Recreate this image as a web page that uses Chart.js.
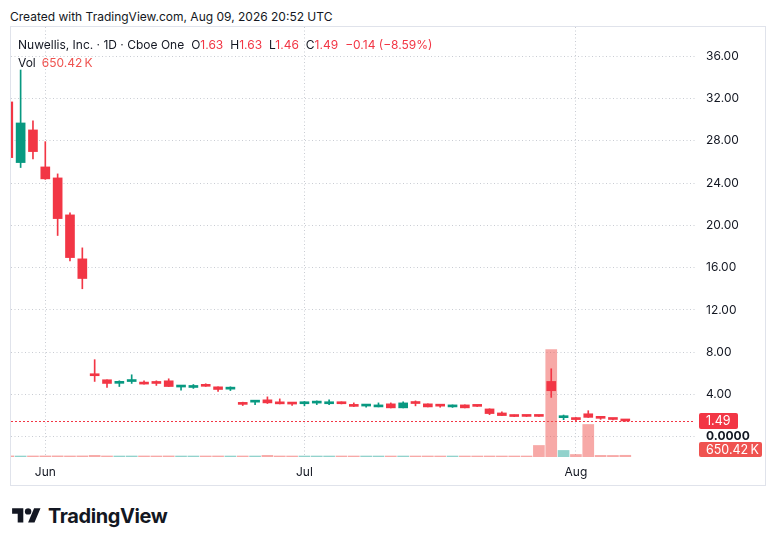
<!DOCTYPE html>
<html>
<head>
<meta charset="utf-8">
<script src="https://cdn.jsdelivr.net/npm/chart.js@4.4.1/dist/chart.umd.min.js"></script>
<style>
  body { margin: 0; width: 776px; height: 546px; background: #fff; position: relative; overflow: hidden;
         font-family: Inter, "Noto Sans", sans-serif; color: #131722; }
  #created { position: absolute; left: 10px; top: 9px; font-size: 12px; line-height: 16px; white-space: nowrap; }
  #pane { position: absolute; left: 10px; top: 26px; width: 756px; height: 460px;
          border: 1px solid #e0e3eb; box-sizing: border-box; }
  #pane canvas { position: absolute; left: 0; top: 0; }
  #legend { position: absolute; left: 18px; top: 36px; font-size: 12px; line-height: 18px; white-space: nowrap; z-index: 2; }
  #legend .v { color: #f23645; margin-right: 7px; }
  #legend .vol { color: #ef5350; margin-left: 6px; }
  #legend .sp { margin-left: 7px; }
  #logo { position: absolute; left: 12px; top: 504px; height: 24px; display: flex; align-items: center; }
  #logo span { font-size: 20px; font-weight: 700; letter-spacing: -0.4px; margin-left: 7px; color: #131722; }
</style>
</head>
<body>
<div id="created">Created with TradingView.com, Aug 09, 2026 20:52 UTC</div>
<div id="pane"><canvas id="chart" width="754" height="458"></canvas></div>
<div id="legend"></div>
<div id="logo">
  <svg width="29" height="22.4" viewBox="0 0 36 28"><path fill="#131722" d="M14 22H7V11H0V4h14v18zM28 22h-8l7.5-18h8L28 22z"/><circle fill="#131722" cx="20" cy="8" r="4"/></svg>
  <span>TradingView</span>
</div>
<script>
// NUWE daily, Cboe One
const dates = [
  "2026-05-27", "2026-05-28", "2026-05-29",
  "2026-06-01", "2026-06-02", "2026-06-03", "2026-06-04", "2026-06-05",
  "2026-06-08", "2026-06-09", "2026-06-10", "2026-06-11", "2026-06-12",
  "2026-06-15", "2026-06-16", "2026-06-17", "2026-06-18",
  "2026-06-22", "2026-06-23", "2026-06-24", "2026-06-25", "2026-06-26",
  "2026-06-29", "2026-06-30",
  "2026-07-01", "2026-07-02",
  "2026-07-06", "2026-07-07", "2026-07-08", "2026-07-09", "2026-07-10",
  "2026-07-13", "2026-07-14", "2026-07-15", "2026-07-16", "2026-07-17",
  "2026-07-20", "2026-07-21", "2026-07-22", "2026-07-23", "2026-07-24",
  "2026-07-27", "2026-07-28", "2026-07-29", "2026-07-30", "2026-07-31",
  "2026-08-03", "2026-08-04", "2026-08-05", "2026-08-06", "2026-08-07"
];
const openV = [31.68, 25.94, 29.03, 25.53, 24.49, 20.99, 16.83, 5.96, 5.39, 5.05,
  5.22, 5.04, 5.09, 5.29, 4.70, 4.66, 4.82, 4.72, 4.50, 3.11,
  3.27, 3.49, 3.30, 3.13, 3.12, 3.18, 3.12, 3.30, 3.01, 2.90,
  2.82, 3.11, 2.73, 3.19, 3.11, 2.94, 2.82, 3.01, 2.91, 2.63,
  2.25, 1.96, 1.95, 1.95, 5.23, 1.80, 1.66, 2.17, 1.79, 1.68, 1.63];
const highV = [32.20, 34.70, 29.88, 27.92, 24.87, 21.18, 17.87, 7.29, 5.39, 5.29,
  5.86, 5.29, 5.29, 5.48, 4.73, 4.94, 5.01, 4.72, 4.72, 3.27,
  3.36, 3.77, 3.58, 3.17, 3.33, 3.39, 3.49, 3.30, 3.20, 3.01,
  3.20, 3.20, 3.30, 3.39, 3.12, 3.01, 3.01, 3.02, 2.92, 2.64,
  2.35, 2.06, 1.95, 1.95, 6.43, 2.05, 1.80, 2.46, 1.91, 1.75, 1.63];
const lowV = [26.20, 25.47, 26.29, 24.35, 19.04, 16.64, 14.00, 5.23, 4.66, 4.75,
  5.04, 4.97, 4.85, 4.74, 4.41, 4.57, 4.76, 4.28, 4.37, 2.95,
  3.04, 3.14, 3.10, 2.95, 2.92, 3.04, 3.04, 3.10, 2.85, 2.79,
  2.82, 2.72, 2.72, 2.92, 2.81, 2.79, 2.77, 2.72, 2.86, 2.09,
  1.99, 1.90, 1.92, 1.92, 3.72, 1.61, 1.42, 1.82, 1.64, 1.58, 1.46];
const closeV = [26.41, 29.69, 26.98, 24.40, 20.64, 16.95, 14.97, 5.77, 5.04, 5.09,
  5.29, 4.98, 5.04, 4.75, 4.73, 4.85, 4.77, 4.47, 4.55, 3.06,
  3.32, 3.20, 3.11, 3.09, 3.16, 3.23, 3.30, 3.12, 2.87, 2.94,
  3.01, 2.73, 3.20, 3.14, 2.82, 2.89, 3.01, 2.73, 2.87, 2.19,
  2.00, 1.91, 1.92, 1.92, 4.35, 1.85, 1.62, 1.83, 1.74, 1.63, 1.49];
// volume in millions of shares
const volumeM = [0.42, 0.38, 0.40, 0.41, 0.43, 0.40, 0.42, 0.62, 0.40, 0.38,
  0.39, 0.40, 0.39, 0.41, 0.38, 0.37, 0.39, 0.40, 0.36, 0.39,
  0.38, 0.62, 0.39, 0.38, 0.36, 0.37, 0.38, 0.39, 0.38, 0.36,
  0.37, 0.38, 0.37, 0.38, 0.39, 0.37, 0.36, 0.38, 0.37, 0.39,
  0.38, 0.37, 0.36, 4.40, 41.0, 2.50, 0.95, 12.40, 0.62, 0.60, 0.65042];
const monthTickDates = ["2026-06-01", "2026-07-01", "2026-08-03"];
const monthTickLabels = ["Jun", "Jul", "Aug"];
const priceTicks = [0, 4, 8, 12, 16, 20, 24, 28, 32, 36];

const UP = "#089981", DOWN = "#f23645";
const VOL_UP = "rgba(38,166,154,0.5)", VOL_DOWN = "rgba(239,83,80,0.5)";
const GRID = "#c9ccd3";
const last = closeV.length - 1;
const isUp = i => closeV[i] >= openV[i];

// legend text
const chg = closeV[last] - closeV[last - 1];
const pct = chg / closeV[last - 1] * 100;
const fmt = v => (v < 0 ? "\u2212" : "") + Math.abs(v).toFixed(2);
document.getElementById("legend").innerHTML =
  'Nuwellis, Inc. \u00b7 1D \u00b7 Cboe One<span class="sp"></span>' +
  'O<span class="v">' + openV[last].toFixed(2) + '</span>' +
  'H<span class="v">' + highV[last].toFixed(2) + '</span>' +
  'L<span class="v">' + lowV[last].toFixed(2) + '</span>' +
  'C<span class="v">' + closeV[last].toFixed(2) + '</span>' +
  '<span class="v">' + fmt(chg) + ' (' + fmt(pct) + '%)</span><br>' +
  'Vol<span class="vol">' + (volumeM[last] * 1000).toFixed(2) + '\u2009K</span>';

function labelBox(ctx, x, yMid, w, h, color, text) {
  ctx.fillStyle = color;
  ctx.beginPath();
  ctx.roundRect(x, Math.round(yMid - h / 2), w, h, 2);
  ctx.fill();
  ctx.fillStyle = "#fff";
  ctx.textAlign = "left";
  ctx.textBaseline = "middle";
  ctx.fillText(text, x + 7, Math.round(yMid) + 0.5);
}

const lastValuePlugin = {
  id: "lastValue",
  beforeDatasetsDraw(chart) {
    const { ctx, chartArea, scales } = chart;
    const y = Math.round(scales.y.getPixelForValue(closeV[last])) + 0.5;
    ctx.save();
    ctx.strokeStyle = DOWN;
    ctx.lineWidth = 1;
    ctx.setLineDash([2, 2]);
    ctx.beginPath();
    ctx.moveTo(chartArea.left, y);
    ctx.lineTo(chartArea.right, y);
    ctx.stroke();
    ctx.restore();
  },
  afterDraw(chart) {
    const { ctx, chartArea, scales } = chart;
    ctx.save();
    ctx.font = "12.5px Inter, 'Noto Sans', sans-serif";
    const yP = scales.y.getPixelForValue(closeV[last]);
    labelBox(ctx, chartArea.right + 4, yP, 39, 16, isUp(last) ? UP : DOWN, closeV[last].toFixed(2));
    const yV = Math.min(scales.yv.getPixelForValue(volumeM[last]), chartArea.bottom - 7.5);
    labelBox(ctx, chartArea.right + 4, yV, 63, 15, "#ef5350", (volumeM[last] * 1000).toFixed(2) + "\u2009K");
    ctx.restore();
  }
};

const noPad = s => { s.paddingTop = 0; s.paddingBottom = 0; s.paddingLeft = 0; s.paddingRight = 0; };
const idx = dates.map((d, i) => i);

new Chart(document.getElementById("chart"), {
  type: "bar",
  data: {
    datasets: [
      {
        label: "body",
        data: idx.map(i => ({ x: i, y: [openV[i], closeV[i]] })),
        backgroundColor: idx.map(i => isUp(i) ? UP : DOWN),
        barThickness: 9,
        minBarLength: 2,
        grouped: false,
        yAxisID: "y",
        order: 0
      },
      {
        label: "wick",
        data: idx.map(i => ({ x: i, y: [lowV[i], highV[i]] })),
        backgroundColor: idx.map(i => isUp(i) ? UP : DOWN),
        barThickness: 1,
        minBarLength: 1,
        grouped: false,
        yAxisID: "y",
        order: 1
      },
      {
        label: "volume",
        data: idx.map(i => ({ x: i, y: volumeM[i] })),
        backgroundColor: idx.map(i => isUp(i) ? VOL_UP : VOL_DOWN),
        barThickness: 11,
        minBarLength: 1,
        grouped: false,
        yAxisID: "yv",
        order: 2
      }
    ]
  },
  options: {
    responsive: false,
    animation: false,
    layout: { padding: 0 },
    plugins: { legend: { display: false }, tooltip: { enabled: false } },
    scales: {
      x: {
        type: "linear",
        min: 0.22,
        max: 55.65,
        offset: false,
        grid: { color: GRID, lineWidth: 1, drawTicks: false, offset: false },
        border: { display: false, dash: [1, 2.5] },
        afterBuildTicks: s => { s.ticks = monthTickDates.map(d => ({ value: dates.indexOf(d) })); },
        afterFit: s => { s.height = 28; noPad(s); },
        ticks: {
          autoSkip: false,
          maxRotation: 0,
          padding: 8,
          color: "#131722",
          font: { family: "Inter, 'Noto Sans', sans-serif", size: 12 },
          callback: v => monthTickLabels[monthTickDates.indexOf(dates[v])]
        }
      },
      y: {
        position: "right",
        min: -1.92,
        max: 38.77,
        grid: { color: GRID, lineWidth: 1, drawTicks: false },
        border: { display: false, dash: [1, 2.5] },
        afterBuildTicks: s => { s.ticks = priceTicks.map(v => ({ value: v })); },
        afterFit: s => { s.width = 70; noPad(s); },
        ticks: {
          padding: 11,
          color: "#131722",
          font: ctx => ({ family: "Inter, 'Noto Sans', sans-serif", size: 12,
                          weight: ctx.tick && ctx.tick.value === 0 ? "bold" : "normal" }),
          callback: v => v === 0 ? "0.0000" : v.toFixed(2)
        }
      },
      yv: {
        display: false,
        min: 0,
        max: 164
      }
    }
  },
  plugins: [lastValuePlugin]
});
</script>
</body>
</html>
